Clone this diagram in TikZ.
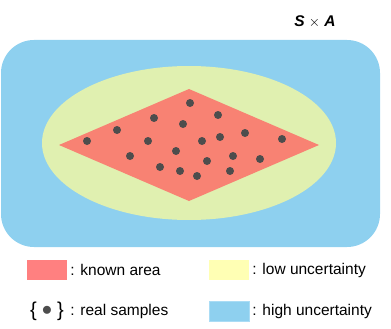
\documentclass[tikz,border=0pt]{standalone}
\usepackage{fontspec}
\setmainfont{Liberation Sans}
\usepackage{amsmath}
\usetikzlibrary{positioning}
\definecolor{highblue}{RGB}{142,208,239}
\definecolor{highedge}{RGB}{170,220,245}
\definecolor{lowgreen}{RGB}{224,240,176}
\definecolor{knownred}{RGB}{248,130,115}
\definecolor{legred}{RGB}{255,128,128}
\definecolor{legyellow}{RGB}{255,255,180}
\definecolor{dotgray}{RGB}{77,77,77}
\newcommand{\sampledot}[1]{\fill[dotgray] #1 circle (4pt);}
\tikzset{
  legbox/.style={rectangle,minimum width=40pt,minimum height=20pt,inner sep=0pt},
  legtext/.style={font=\fontsize{15.5}{18}\selectfont,inner sep=0pt,anchor=west}
}

\begin{document}
\begin{tikzpicture}[x=1pt,y=-1pt]
		\useasboundingbox (0,0) rectangle (391,329);
		\fill[highblue,rounded corners=33pt] (1,40) rectangle (380,247);
		\fill[lowgreen] (189,143) ellipse [x radius=147pt,y radius=77pt];
		\fill[knownred] (59,145) -- (189,89) -- (319,145) -- (189,201) -- cycle;
		\sampledot{(190,103)} \sampledot{(218,115)} \sampledot{(154,118)} \sampledot{(183,124)} \sampledot{(117,130)}
		\sampledot{(87,141)} \sampledot{(148,141)} \sampledot{(202,141)} \sampledot{(220,137)} \sampledot{(245,133)}
		\sampledot{(282,139)} \sampledot{(176,151)} \sampledot{(130,156)} \sampledot{(233,156)} \sampledot{(260,159)}
		\sampledot{(207,161)} \sampledot{(160,167)} \sampledot{(180,171)} \sampledot{(197,176)} \sampledot{(230,171)}
		\node[font=\fontsize{15.5}{18}\selectfont] (space) at (315,22) {\textbf{\textit{S}} $\times$ \textbf{\textit{A}}};
		% legend
		\node[legbox,fill=legred] (knownbox) at (47,270) {};
		\node[legtext,right=3pt of knownbox] (knowntxt) {: known area};
		\node[legbox,fill=legyellow] (lowbox) at (229,270) {};
		\node[legtext,right=3pt of lowbox] (lowtxt) {: low uncertainty};
		\node[legbox,fill=highblue,draw=highedge] (highbox) at (229,311) {};
		\node[legtext,right=3pt of highbox] (hightxt) {: high uncertainty};
		\node[legbox,font=\fontsize{20}{22}\selectfont] (samplebox) at (47,311) {\{\hspace{5pt}{\color{dotgray}\raisebox{1pt}{$\bullet$}}\hspace{5pt}\}};
		\node[legtext,right=3pt of samplebox] (sampletxt) {: real samples};
\end{tikzpicture}
\end{document}
